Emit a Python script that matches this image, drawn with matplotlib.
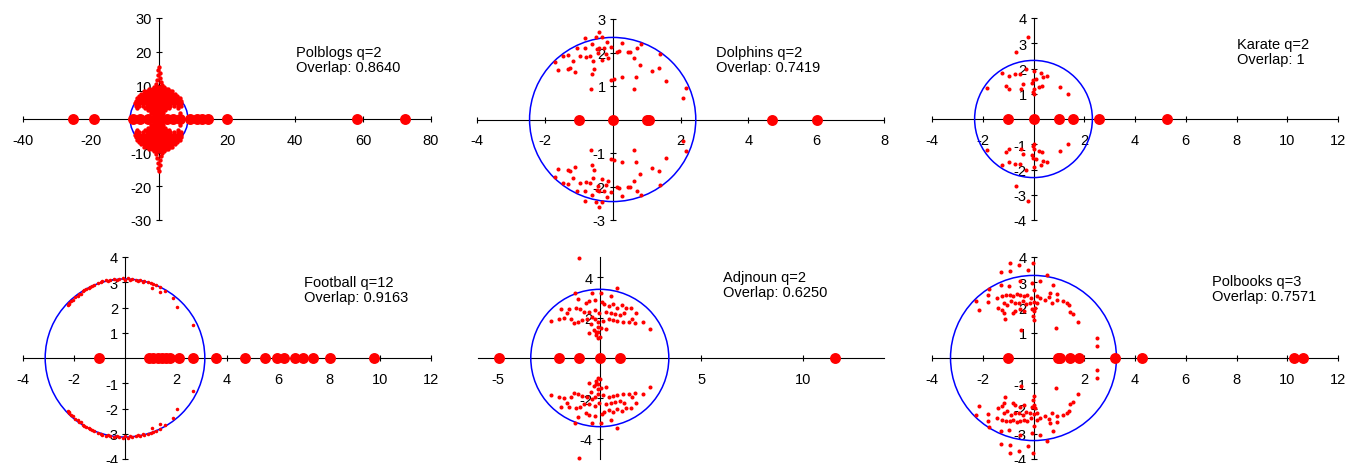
import matplotlib
matplotlib.use("Agg")
import matplotlib.pyplot as plt
from matplotlib.patches import Circle

# Spectra of the non-backtracking matrix for six networks.
# Complex eigenvalues are given for the upper half plane only,
# their conjugates are drawn as well.

W, H = 1350, 464

# ---------------- Polblogs ----------------
polblogs_real = [-25.2, -19.1, -7.6, -5.6, -3.1, -1.2, 0.3, 2.3, 4.2, 6.2,
                 9.1, 11.1, 12.6, 14.5, 19.9, 58.2, 72.4]
polblogs_rows = [
    (9.6, [-1.4, -0.7, 0.0, 0.7, 1.4]),
    (8.9, [-2.9, -2.2, -1.5, -0.8, -0.1, 0.6, 1.3, 2.0, 2.7]),
    (8.2, [-4.4, -3.6, -2.9, -2.1, -1.4, -0.6, 0.1, 0.9, 1.6, 2.4, 3.1, 3.9]),
    (7.5, [-5.2, -4.4, -3.7, -2.9, -2.2, -1.4, -0.7, 0.1, 0.8, 1.6, 2.3, 3.1, 3.8, 4.6]),
    (6.8, [-5.9, -5.1, -4.4, -3.6, -2.9, -2.1, -1.4, -0.6, 0.1, 0.9, 1.6, 2.4, 3.1,
           3.9, 4.6, 5.4]),
    (6.1, [-6.4, -5.6, -4.9, -4.1, -3.4, -2.6, -1.9, -1.1, -0.4, 0.4, 1.1, 1.9, 2.6,
           3.4, 4.1, 4.9, 5.6, 6.2]),
    (5.4, [-6.8, -6.0, -5.3, -4.5, -3.8, -3.0, -2.3, -1.5, -0.8, 0.0, 0.7, 1.5, 2.2,
           3.0, 3.7, 4.5, 5.2, 6.0, 6.6]),
    (4.7, [-7.1, -6.3, -5.6, -4.8, -4.1, -3.3, -2.6, -1.8, -1.1, -0.3, 0.4, 1.2, 1.9,
           2.7, 3.4, 4.2, 4.9, 5.7, 6.5]),
    (4.0, [-6.9, -5.8, -4.6, -3.6, -2.9, -2.1, -1.4, -0.6, 0.1, 0.9, 1.6, 2.4, 3.2,
           4.3, 5.5, 6.4]),
    (3.3, [-6.4, -4.0, -3.2, -2.5, -1.7, -1.0, -0.2, 0.5, 1.3, 2.0, 2.8, 5.6]),
    (2.6, [-3.3, -2.6, -1.8, -1.1, -0.3, 0.4, 1.2, 1.9]),
    (1.9, [-2.4, -1.6, -0.9, -0.1, 0.6, 1.3, 6.3]),
    (1.2, [-1.4, -0.7, 0.0, 0.7]),
]
polblogs_spike_x = [0.1, -0.3, 0.3, -0.2, 0.2, -0.5, 0.5, -0.9, 0.9]
polblogs_spike_y = [15.4, 14.6, 13.8, 13.0, 12.2, 11.5, 10.9, 10.3, 10.2]
polblogs_radius = 8.5

# ---------------- Dolphins ----------------
dolphins_real = [-1.0, 0.0, 1.0, 1.08, 4.69, 6.02]
dolphins_cx = [-0.40, -0.83, -0.48, -0.31, -0.17, -1.04, -0.83, -0.60, -0.46, -0.41,
               -0.27, -0.04, 0.28, 0.85, 0.72, -1.32, -1.47, -1.71, -0.95, -0.80,
               -0.68, -0.43, -0.21, -0.14, 0.13, 0.18, 0.45, 0.50, 0.62, 1.39,
               -1.17, -0.58, -0.31, -1.27, -1.32, -1.10, -1.61, -0.55, -0.61, 0.80,
               1.17, 1.36, -0.06, 0.04, 0.28, 0.68, 1.57, -0.65, 0.62, 2.16, 2.08]
dolphins_cy = [2.61, 2.44, 2.47, 2.46, 2.32, 2.14, 2.14, 2.24, 2.09, 2.14,
               2.14, 2.16, 2.29, 2.24, 2.14, 1.92, 1.89, 1.71, 1.89, 1.87,
               1.91, 1.99, 1.96, 1.84, 2.01, 2.04, 2.02, 2.02, 1.84, 1.96,
               1.74, 1.76, 1.77, 1.54, 1.50, 1.42, 1.48, 1.51, 1.35, 1.62,
               1.45, 1.54, 1.17, 1.20, 1.27, 1.28, 1.15, 0.92, 0.92, 0.93, 0.64]
dolphins_radius = 2.45

# ---------------- Karate ----------------
karate_real = [-1.01, 0.0, 1.01, 1.56, 2.59, 5.27]
karate_cx = [-0.22, -0.69, -0.31, -1.24, -0.72, -0.55, -0.98, 0.0, 0.29, 0.52,
             0.39, 0.10, -0.03, -0.07, -0.42, -1.07, -0.98, -1.83, -0.50, 0.0,
             -0.03, 0.0, 0.21, 0.33, 1.05, 1.35]
karate_cy = [3.24, 2.65, 2.00, 1.84, 1.80, 1.80, 1.71, 1.89, 1.84, 1.71,
             1.65, 1.60, 1.55, 1.43, 1.38, 1.31, 1.20, 1.23, 1.18, 1.20,
             1.07, 0.99, 1.27, 1.30, 1.26, 0.99]
karate_radius = 2.32

# ---------------- Football ----------------
football_real = [-1.01, 0.96, 1.11, 1.28, 1.44, 1.61, 1.77, 2.13, 2.68, 3.57,
                 4.69, 5.50, 5.96, 6.23, 6.68, 6.98, 7.39, 8.05, 9.76]
football_cx = [-2.25, -2.19, -2.05, -1.95, -1.79, -1.66, -1.51, -1.37, -1.20, -1.07,
               -0.90, -0.75, -0.58, -0.42, -0.25, -0.07, 0.10, 0.27, 0.43, 0.59,
               0.76, 0.92, 1.09, 1.22, 1.39, 1.06, 1.39, 1.57, 1.87, 2.04, 2.66,
               -2.20, -1.85, -1.42, -0.95, 0.0, 0.50, 1.00, -2.10, -1.60, -0.30,
               -1.72, -1.28, -0.65, 0.20, 0.70]
football_cy = [2.09, 2.18, 2.31, 2.40, 2.53, 2.64, 2.75, 2.83, 2.90, 2.97,
               3.04, 3.08, 3.10, 3.13, 3.14, 3.16, 3.16, 3.14, 3.10, 3.08,
               3.04, 3.01, 2.94, 2.90, 2.81, 2.77, 2.60, 2.64, 2.38, 2.01, 1.29,
               2.12, 2.45, 2.78, 3.00, 3.10, 3.05, 2.98, 2.25, 2.68, 3.08,
               2.55, 2.86, 3.04, 3.10, 3.02]
football_radius = 3.13

# ---------------- Adjnoun ----------------
adjnoun_real = [-4.98, -2.0, -1.04, 0.0, 1.01, 11.6]
adjnoun_cx = [-1.04, 0.84, -1.24, -0.38, 0.07, 0.55, -1.09, -0.68, -0.51, -0.23,
              0.10, 0.23, 0.45, 0.64, 0.84, 1.09, 1.31, 1.55, 1.80, 2.13,
              2.46, -2.41, -2.00, -1.75, -1.92, -1.54, -1.17, -0.96, -0.76, -0.51,
              -0.26, -0.05, 0.31, 0.56, 0.73, 0.98, 1.17, -1.62, -1.42, -1.26,
              -1.06, -0.88, -0.64, -0.38, -0.23, -0.10, 0.15, 0.45, 0.64, 0.84,
              1.14, 1.42, 1.60, 1.75, -0.43, -0.10, 0.07, 0.31, -0.31, -0.07,
              -0.51, -0.21, 0.02, -0.07, -0.18]
adjnoun_cy = [4.95, 3.48, 3.24, 3.20, 3.20, 3.09, 2.92, 2.71, 2.82, 2.87,
              2.76, 2.66, 2.59, 2.66, 2.50, 2.62, 2.46, 2.46, 2.21, 1.76,
              1.43, 1.82, 1.93, 2.00, 2.43, 2.43, 2.49, 2.43, 2.29, 2.29,
              2.38, 2.21, 2.29, 2.21, 2.16, 2.13, 2.24, 2.21, 1.93, 1.71,
              1.76, 1.88, 1.93, 2.04, 1.93, 1.80, 1.83, 1.93, 1.88, 1.83,
              1.80, 1.80, 1.93, 1.71, 1.66, 1.55, 1.47, 1.43, 1.38, 1.27,
              1.22, 1.13, 1.05, 0.97, 1.30]
adjnoun_radius = 3.4

# ---------------- Polbooks ----------------
polbooks_real = [-1.01, 0.98, 1.05, 1.44, 1.81, 3.21, 4.29, 10.26, 10.62]
polbooks_cx = [-0.94, -0.56, -0.03, -1.29, -0.92, -0.20, 0.52, -0.55, -0.07, 0.26,
               0.76, -1.29, -1.77, -0.98, 0.0, 0.66, 0.92, -1.81, -1.44, -1.25,
               -1.08, -0.92, -0.79, -0.66, -0.52, -0.37, -0.26, -0.09, 0.13, 0.26,
               0.46, 0.63, 0.72, 0.92, 1.18, 1.31, 1.38, 1.44, 1.57, 1.77,
               -2.26, -2.16, -1.81, -1.38, -1.25, -1.15, -1.05, -0.88, -0.72, -0.59,
               -0.42, -0.29, -0.13, 0.03, 0.13, -1.18, -1.11, -0.79, -0.72, -0.52,
               -0.37, -0.07, 0.0, 0.07, -0.03, 0.0, -0.50, 0.87, 2.49, 2.49]
polbooks_cy = [3.76, 3.70, 3.76, 3.41, 3.43, 3.50, 3.27, 3.04, 2.97, 3.06,
               2.90, 2.90, 2.75, 2.84, 2.71, 2.57, 2.53, 2.48, 2.38, 2.44,
               2.48, 2.51, 2.44, 2.53, 2.51, 2.44, 2.48, 2.38, 2.44, 2.38,
               2.31, 2.40, 2.18, 2.31, 2.27, 2.18, 2.11, 1.81, 1.74, 1.43,
               2.27, 1.89, 2.22, 1.98, 1.91, 2.18, 2.09, 2.24, 2.18, 2.18,
               2.24, 2.14, 2.18, 2.22, 2.18, 1.78, 1.56, 1.78, 1.85, 1.95,
               1.87, 1.95, 1.85, 1.98, 1.65, 1.52, 1.12, 1.19, 0.79, 0.46]
polbooks_radius = 3.27

plt.rcParams['font.family'] = ['Liberation Sans', 'DejaVu Sans']
plt.rcParams['axes.unicode_minus'] = False

RED = '#ff0000'
BLUE = '#0000ff'
FS = 10.5


def make_panel(fig, box, xlim, ylim, xticks, yticks):
    """ box = (left, right, top, bottom) of the axis lines in pixels """
    x0, x1, yt, yb = box
    ax = fig.add_axes([x0 / W, 1 - yb / H, (x1 - x0) / W, (yb - yt) / H])
    ax.set_xlim(xlim)
    ax.set_ylim(ylim)
    ax.patch.set_visible(False)
    ax.spines['top'].set_visible(False)
    ax.spines['right'].set_visible(False)
    ax.spines['left'].set_position(('data', 0))
    ax.spines['bottom'].set_position(('data', 0))
    for s in ['left', 'bottom']:
        ax.spines[s].set_linewidth(0.8)
        ax.spines[s].set_zorder(1)
    ax.set_xticks(xticks)
    ax.set_yticks(yticks)
    ax.tick_params(direction='inout', length=5, width=0.8, labelsize=FS)
    ax.tick_params(axis='x', pad=7.5)
    ax.tick_params(axis='y', pad=2.5)
    ax.set_axisbelow(True)
    return ax


def draw(ax, radius, real, cx, cy, small=8.5):
    ax.add_patch(Circle((0, 0), radius, fill=False, ec=BLUE, lw=1.1, zorder=1.5))
    ax.scatter(cx, cy, s=small, c=RED, lw=0, zorder=3, clip_on=False)
    ax.scatter(cx, [-v for v in cy], s=small, c=RED, lw=0, zorder=3, clip_on=False)
    ax.scatter(real, [0] * len(real), s=62, c=RED, lw=0, zorder=4, clip_on=False)


def label(fig, x, y, lines):
    fig.text(x / W, 1 - y / H, "\n".join(lines), ha='left', va='top',
             fontsize=FS, linespacing=1.05)


fig = plt.figure(figsize=(W / 100, H / 100), dpi=100)

# Polblogs
ax = make_panel(fig, (23, 431, 19, 221), (-40, 80), (-30, 30),
                [-40, -20, 20, 40, 60, 80], [-30, -20, -10, 10, 20, 30])
pb_x, pb_y = [], []
for yv, xs in polblogs_rows:
    pb_x += xs
    pb_y += [yv] * len(xs)
pb_x += polblogs_spike_x
pb_y += polblogs_spike_y
draw(ax, polblogs_radius, polblogs_real, pb_x, pb_y, small=10)
label(fig, 296, 46, ["Polblogs q=2", "Overlap: 0.8640"])

# Dolphins
ax = make_panel(fig, (477, 884, 20, 221), (-4, 8), (-3, 3),
                [-4, -2, 2, 4, 6, 8], [-3, -2, -1, 1, 2, 3])
draw(ax, dolphins_radius, dolphins_real, dolphins_cx, dolphins_cy)
label(fig, 716, 46, ["Dolphins q=2", "Overlap: 0.7419"])

# Karate
ax = make_panel(fig, (932, 1338, 19, 221), (-4, 12), (-4, 4),
                [-4, -2, 2, 4, 6, 8, 10, 12], [-4, -3, -2, -1, 1, 2, 3, 4])
draw(ax, karate_radius, karate_real, karate_cx, karate_cy)
label(fig, 1237, 38, ["Karate q=2", "Overlap: 1"])

# Football
ax = make_panel(fig, (23, 431, 258, 460), (-4, 12), (-4, 4),
                [-4, -2, 2, 4, 6, 8, 10, 12], [-4, -3, -2, -1, 1, 2, 3, 4])
draw(ax, football_radius, football_real, football_cx, football_cy, small=6.5)
label(fig, 304, 276, ["Football q=12", "Overlap: 0.9163"])

# Adjnoun
ax = make_panel(fig, (478, 884, 258, 460), (-6, 14), (-5, 5),
                [-5, 5, 10], [-4, -2, 2, 4])
draw(ax, adjnoun_radius, adjnoun_real, adjnoun_cx, adjnoun_cy)
label(fig, 723, 271, ["Adjnoun q=2", "Overlap: 0.6250"])

# Polbooks
ax = make_panel(fig, (932, 1338, 258, 460), (-4, 12), (-4, 4),
                [-4, -2, 2, 4, 6, 8, 10, 12], [-4, -3, -2, -1, 1, 2, 3, 4])
draw(ax, polbooks_radius, polbooks_real, polbooks_cx, polbooks_cy)
label(fig, 1212, 275, ["Polbooks q=3", "Overlap: 0.7571"])

fig.savefig("out.png", dpi=100)
